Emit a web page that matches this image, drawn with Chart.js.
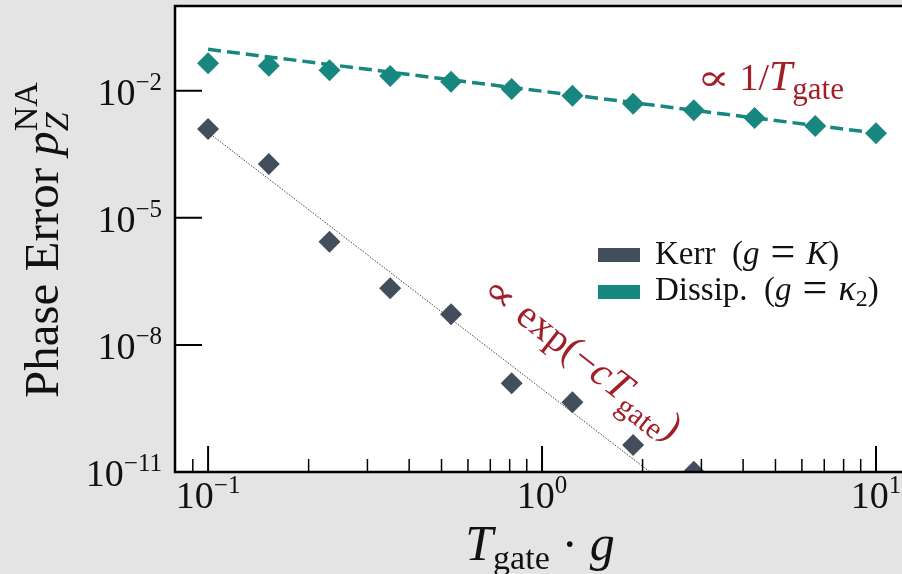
<!DOCTYPE html>
<html>
<head>
<meta charset="utf-8">
<script src="https://cdn.jsdelivr.net/npm/chart.js@4.4.1/dist/chart.umd.min.js"></script>
<style>
  html, body { margin: 0; padding: 0; background: #e4e4e4; overflow: hidden; }
  #wrap { width: 912px; height: 574px; position: relative; }
</style>
</head>
<body>
<div id="wrap"><canvas id="chart"></canvas></div>
<script>
// gate durations (T_gate * g), log spaced 0.1 .. 10
const gateTimes = [0.1, 0.152, 0.231, 0.351, 0.534, 0.811, 1.233, 1.874, 2.848, 4.329, 6.579, 10];
const dissipError = [0.0444, 0.0390, 0.0303, 0.0222, 0.0163, 0.0110, 0.00763, 0.00494, 0.00345, 0.00227, 0.00147, 0.00099];
// Kerr errors below 1e-11 fall off the axis
const kerrError = [1.25e-3, 1.86e-4, 2.73e-6, 2.17e-7, 5.27e-8, 1.24e-9, 4.41e-10, 4.33e-11, 1.01e-11];

// guide lines
const dissipFitX = [0.1, 10];
const dissipFitY = [0.095, 0.001];
const kerrFitX = [0.1, 2.105];
const kerrFitY = [1.04e-3, 1e-11];

const yTickValues = [1e-2, 1e-5, 1e-8, 1e-11];
const yTickExps = ['\u22122', '\u22125', '\u22128', '\u221211'];
const xTickValues = [0.1, 1, 10];
const xTickExps = ['\u22121', '0', '1'];
const xMinorTicks = [0.09, 0.2, 0.3, 0.4, 0.5, 0.6, 0.7, 0.8, 0.9, 2, 3, 4, 5, 6, 7, 8, 9];

const TEAL = '#17877f';
const SLATE = '#434e5c';
const RED = '#a11f26';
const SERIF = '"Liberation Serif", "DejaVu Serif", serif';

function fnt(size, it) {
    return (it ? 'italic ' : '') + size + 'px ' + SERIF;
}

function pieceWidth(ctx, p) {
    ctx.font = fnt(p.size, p.it);
    return ctx.measureText(p.t).width * (p.sx || 1);
}

// draws a run of text pieces; a piece with stack:true starts where the previous one started
function richWidth(ctx, parts) {
    let cur = 0, start = 0;
    parts.forEach(p => {
        const w = pieceWidth(ctx, p);
        if (p.stack) {
            cur = Math.max(cur, start + w);
        } else {
            start = cur;
            cur += w;
        }
    });
    return cur;
}

function drawPiece(ctx, p, x, y) {
    ctx.font = fnt(p.size, p.it);
    if (p.sx) {
        ctx.save();
        ctx.translate(x, y);
        ctx.scale(p.sx, 1);
        ctx.fillText(p.t, 0, 0);
        ctx.restore();
    } else {
        ctx.fillText(p.t, x, y);
    }
}

function drawRich(ctx, x, y, parts, align) {
    const total = richWidth(ctx, parts);
    let cur = x;
    if (align === 'center') cur = x - total / 2;
    if (align === 'right') cur = x - total;
    let start = cur, end = cur;
    ctx.textAlign = 'left';
    ctx.textBaseline = 'alphabetic';
    parts.forEach(p => {
        const w = pieceWidth(ctx, p);
        if (p.stack) {
            drawPiece(ctx, p, start, y + (p.dy || 0));
            end = Math.max(end, start + w);
        } else {
            start = end;
            drawPiece(ctx, p, start, y + (p.dy || 0));
            end = start + w;
        }
    });
}

const frame = {
    id: 'frame',
    beforeDraw(chart) {
        const { ctx, chartArea: a } = chart;
        ctx.save();
        ctx.fillStyle = '#ffffff';
        ctx.fillRect(a.left, a.top, a.right - a.left, a.bottom - a.top);
        ctx.restore();
    },
    afterDraw(chart) {
        const { ctx, chartArea: a } = chart;
        const xs = chart.scales.x, ys = chart.scales.y;
        ctx.save();
        ctx.strokeStyle = '#000';
        ctx.lineCap = 'butt';

        // inward ticks
        ctx.lineWidth = 2;
        ctx.beginPath();
        yTickValues.forEach(v => {
            const py = ys.getPixelForValue(v);
            ctx.moveTo(a.left, py);
            ctx.lineTo(a.left + 27, py);
        });
        xTickValues.forEach(v => {
            const px = xs.getPixelForValue(v);
            ctx.moveTo(px, a.bottom);
            ctx.lineTo(px, a.bottom - 26);
        });
        ctx.stroke();
        ctx.lineWidth = 1.5;
        ctx.beginPath();
        xMinorTicks.forEach(v => {
            const px = xs.getPixelForValue(v);
            ctx.moveTo(px, a.bottom);
            ctx.lineTo(px, a.bottom - 13);
        });
        ctx.stroke();

        // spines
        ctx.lineWidth = 2.5;
        ctx.beginPath();
        ctx.moveTo(a.right, a.top);
        ctx.lineTo(a.left, a.top);
        ctx.lineTo(a.left, a.bottom);
        ctx.lineTo(a.right, a.bottom);
        ctx.stroke();

        // tick labels
        ctx.fillStyle = '#111';
        yTickValues.forEach((v, i) => {
            const py = ys.getPixelForValue(v);
            drawRich(ctx, 162, py + 14, [
                { t: '10', size: 38 },
                { t: yTickExps[i], size: 25, dy: -15 }
            ], 'right');
        });
        xTickValues.forEach((v, i) => {
            const px = xs.getPixelForValue(v);
            drawRich(ctx, px, 508, [
                { t: '10', size: 38 },
                { t: xTickExps[i], size: 25, dy: -15 }
            ], 'center');
        });

        // axis titles
        drawRich(ctx, 540, 560, [
            { t: 'T', size: 50, it: true },
            { t: 'gate', size: 34, dy: 9 },
            { t: ' \u00b7 ', size: 48 },
            { t: 'g', size: 50, it: true }
        ], 'center');
        ctx.save();
        ctx.translate(58, 398);
        ctx.rotate(-Math.PI / 2);
        drawRich(ctx, 0, 0, [
            { t: 'Phase Error ', size: 49 },
            { t: 'p', size: 49, it: true },
            { t: 'Z', size: 34, it: true, dy: 10 },
            { t: 'NA', size: 34, dy: -21, stack: true }
        ], 'left');
        ctx.restore();

        // legend
        ctx.fillStyle = SLATE;
        ctx.fillRect(598, 248, 42, 14);
        ctx.fillStyle = TEAL;
        ctx.fillRect(598, 285, 42, 14);
        ctx.fillStyle = '#111';
        drawRich(ctx, 655, 264, [
            { t: 'Kerr  (', size: 33 },
            { t: 'g', size: 33, it: true },
            { t: ' = ', size: 44, dy: 2 },
            { t: 'K', size: 33, it: true },
            { t: ')', size: 33 }
        ], 'left');
        drawRich(ctx, 655, 300, [
            { t: 'Dissip.  (', size: 33 },
            { t: 'g', size: 33, it: true },
            { t: ' = ', size: 44, dy: 2 },
            { t: '\u03ba', size: 36, it: true },
            { t: '2', size: 24, dy: 6 },
            { t: ')', size: 33 }
        ], 'left');

        // scaling annotations
        ctx.fillStyle = RED;
        drawRich(ctx, 697, 90, [
            { t: '\u221d', size: 36, sx: 1.35 },
            { t: ' 1/', size: 38 },
            { t: 'T', size: 42, it: true },
            { t: 'gate', size: 31, dy: 9 }
        ], 'left');
        ctx.save();
        ctx.translate(480, 293);
        ctx.rotate(38 * Math.PI / 180);
        drawRich(ctx, 0, 0, [
            { t: '\u221d', size: 36, sx: 1.35 },
            { t: ' exp(\u2212', size: 40 },
            { t: 'cT', size: 41, it: true },
            { t: 'gate', size: 30, dy: 9 },
            { t: ')', size: 40 }
        ], 'left');
        ctx.restore();

        ctx.restore();
    }
};

const toPoints = (xs, ys) => ys.map((y, i) => ({ x: xs[i], y: y }));

const chart = new Chart(document.getElementById('chart'), {
    type: 'line',
    data: {
        datasets: [
            {
                label: 'Dissip. fit',
                data: toPoints(dissipFitX, dissipFitY),
                borderColor: TEAL,
                borderWidth: 3.5,
                borderDash: [13, 6],
                pointRadius: 0
            },
            {
                label: 'Kerr fit',
                data: toPoints(kerrFitX, kerrFitY),
                borderColor: '#444',
                borderWidth: 1,
                borderDash: [1.5, 1.5],
                pointRadius: 0
            },
            {
                label: 'Kerr (g = K)',
                data: toPoints(gateTimes, kerrError),
                showLine: false,
                pointStyle: 'rectRot',
                pointRadius: 11,
                pointBorderWidth: 0,
                backgroundColor: SLATE,
                borderColor: SLATE
            },
            {
                label: 'Dissip. (g = \u03ba2)',
                data: toPoints(gateTimes, dissipError),
                showLine: false,
                pointStyle: 'rectRot',
                pointRadius: 11,
                pointBorderWidth: 0,
                backgroundColor: TEAL,
                borderColor: TEAL
            }
        ]
    },
    options: {
        responsive: true,
        maintainAspectRatio: false,
        animation: false,
        layout: { autoPadding: false, padding: { left: 175, top: 6, right: 8, bottom: 102 } },
        plugins: {
            legend: { display: false },
            tooltip: { enabled: false }
        },
        scales: {
            x: {
                type: 'logarithmic',
                min: 0.0796,
                max: 12.13,
                ticks: { display: false },
                grid: { display: false },
                border: { display: false },
                afterFit: s => { s.height = 0; }
            },
            y: {
                type: 'logarithmic',
                min: 1e-11,
                max: 1,
                ticks: { display: false },
                grid: { display: false },
                border: { display: false },
                afterFit: s => { s.width = 0; }
            }
        }
    },
    plugins: [frame]
});
</script>
</body>
</html>
